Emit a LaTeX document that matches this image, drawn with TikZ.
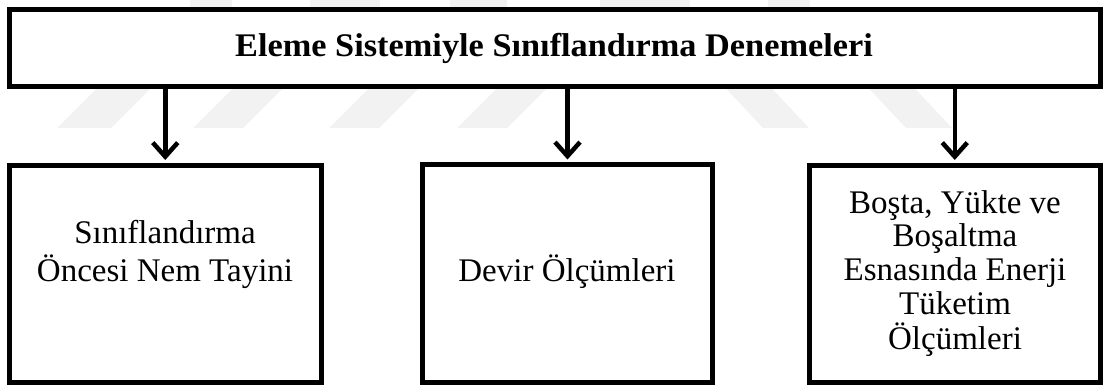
\documentclass[tikz,border=0pt]{standalone}
\usepackage{fontspec}
\setmainfont{Liberation Serif}
\newfontfamily\titlefont[FakeStretch=1.04]{Liberation Serif}
\usetikzlibrary{arrows.meta}
\begin{document}
\begin{tikzpicture}[x=1pt,y=-1pt,
  box/.style={draw=black, line width=5pt, fill=white, inner sep=0pt},
  txt/.style={anchor=base, inner sep=0pt, font=\fontsize{33}{40}\selectfont},
  ttl/.style={anchor=base, inner sep=0pt, font=\titlefont\bfseries\fontsize{33}{40}\selectfont},
  arr/.style={line width=4.5pt, -{Straight Barb[length=14pt,width=25pt]}},
  wm/.style={fill=black!5, draw=none}]
\useasboundingbox (0,0) rectangle (1105,385);
% faint watermark
\fill[wm] (57,128) -- (111,128) -- (159,80) -- (105,80) -- cycle;
\fill[wm] (193,128) -- (243,128) -- (291,80) -- (241,80) -- cycle;
\fill[wm] (329,128) -- (379,128) -- (427,80) -- (377,80) -- cycle;
\fill[wm] (457,128) -- (507,128) -- (555,80) -- (505,80) -- cycle;
\fill[wm] (763,128) -- (809,128) -- (764,80) -- (718,80) -- cycle;
\fill[wm] (906,128) -- (952,128) -- (907,80) -- (861,80) -- cycle;
\fill[wm] (190,0) rectangle (232,12);
\fill[wm] (310,0) rectangle (380,12);
\fill[wm] (450,0) rectangle (507,12);
\fill[wm] (600,0) rectangle (690,12);
\fill[wm] (768,0) rectangle (810,12);
% boxes
\node[box, minimum width=1091pt, minimum height=77pt] (top) at (554.5,48) {};
\node[box, minimum width=311.5pt, minimum height=217.5pt] (b1) at (165.25,273.75) {};
\node[box, minimum width=290pt, minimum height=218pt] (b2) at (567.5,273.5) {};
\node[box, minimum width=290.5pt, minimum height=217.5pt] (b3) at (954.75,273.75) {};
% texts
\node[ttl] (t0) at (554,57) {Eleme Sistemiyle Sınıflandırma Denemeleri};
\node[txt] (t11) at (165,243) {Sınıflandırma};
\node[txt] (t12) at (165,281) {Öncesi Nem Tayini};
\node[txt] (t21) at (567,281) {Devir Ölçümleri};
\node[txt] (t31) at (955,213) {Boşta, Yükte ve};
\node[txt] (t32) at (955,246) {Boşaltma};
\node[txt] (t33) at (955,280) {Esnasında Enerji};
\node[txt] (t34) at (955,314) {Tüketim};
\node[txt] (t35) at (955,349) {Ölçümleri};
% arrows
\draw[arr] (top.south -| b1.north) -- ([yshift=2.5pt]b1.north);
\draw[arr] (top.south -| b2.north) -- ([yshift=2.5pt]b2.north);
\draw[arr] (top.south -| b3.north) -- ([yshift=2.5pt]b3.north);
\end{tikzpicture}
\end{document}
